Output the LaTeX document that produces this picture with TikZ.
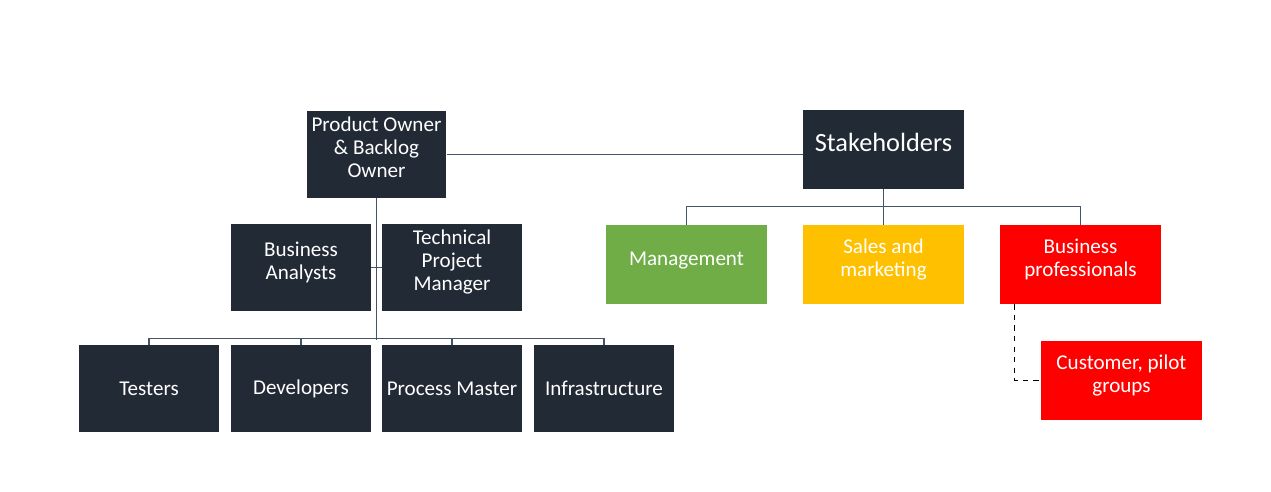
\documentclass[tikz,border=0pt]{standalone}
\usepackage{fontspec}
\setmainfont{Carlito}
\usepackage{tikz}

\definecolor{navy}{HTML}{222A35}
\definecolor{mgreen}{HTML}{70AD47}
\definecolor{myellow}{HTML}{FFC000}
\definecolor{mred}{HTML}{FF0000}
\definecolor{linkgray}{HTML}{44546A}

\begin{document}
\begin{tikzpicture}[x=0.02cm,y=-0.02cm,
                box/.style={rectangle,fill=navy,text=white,align=center,inner sep=2pt,
                    minimum width=2.8cm,minimum height=1.74cm,
                    font=\fontsize{12}{13.2}\selectfont},
                group/.style={box,minimum width=3.22cm,minimum height=1.58cm},
                lift/.style={text depth=8pt},
                link/.style={draw=linkgray,line width=0.6pt}
            ]
                \useasboundingbox (0,0) rectangle (1271,492);

                % product side
                \node[box,lift] (po) at (376.5,154.5) {Product Owner\\ \& Backlog\\ Owner};
                \node[box,lift] (ba) at (301,267.5) {Business\\ Analysts};
                \node[box,lift] (tpm) at (452,267.5) {Technical\\ Project\\ Manager};
                \node[box] (test) at (149,388.5) {Testers};
                \node[box] (dev) at (301,388.5) {Developers};
                \node[box] (pm) at (452,388.5) {Process Master};
                \node[box] (infra) at (604,388.5) {Infrastructure};

                % stakeholder side
                \node[group,lift,font=\fontsize{15}{17}\selectfont] (stake) at (883.5,149.5) {Stakeholders};
                \node[group,fill=mgreen,text depth=7pt] (mgmt) at (686.5,264.5) {Management};
                \node[group,lift,fill=myellow] (sales) at (883.5,264.5) {Sales and\\ marketing};
                \node[group,lift,fill=mred] (bizpro) at (1080.5,264.5) {Business\\ professionals};
                \node[group,lift,fill=mred] (cust) at (1121.5,380.5) {Customer, pilot\\ groups};

                \coordinate (bus) at (376.5,339);
                \coordinate (sbus) at (883.5,207);

                \draw[link] (po.east) -- (po.east -| stake.west);
                \draw[link] (po.south) -- (bus);
                \draw[link] (ba.east) -- (tpm.west);
                \foreach \n in {test,dev,pm,infra}
                    {
                    \draw[link] (\n.north) -- ++(0,-6) -| (bus);
                }
                \draw[link] (stake.south) -- (sbus);
                \foreach \n in {mgmt,sales,bizpro}
                    {
                    \draw[link] (\n.north) -- ++(0,-18) -| (sbus);
                }
                \draw[dashed,black,line width=0.6pt] ([xshift=0.3cm]bizpro.south west) |- (cust.west);

            \end{tikzpicture}
\end{document}
